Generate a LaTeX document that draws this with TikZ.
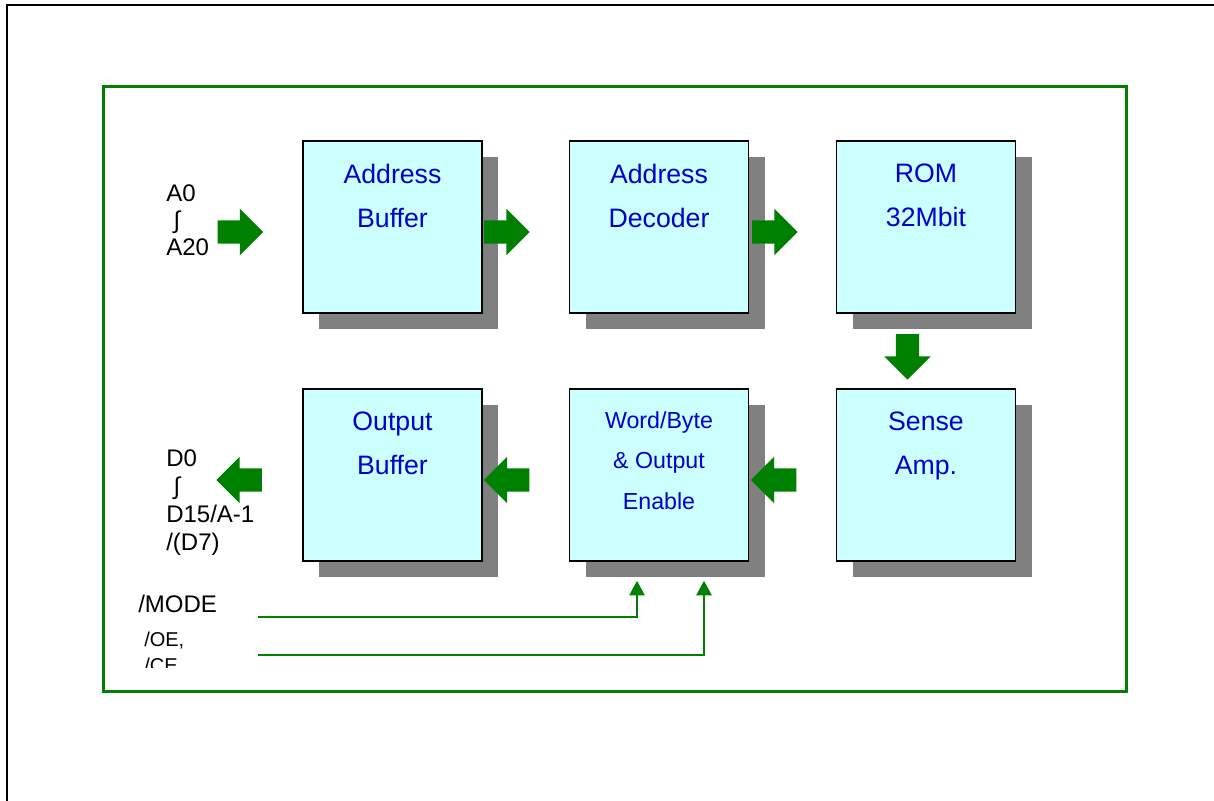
\documentclass[tikz,border=0pt]{standalone}
\usepackage{fontspec}
\setmainfont{Liberation Sans}
\usepackage{tikz}
\usetikzlibrary{arrows.meta, positioning, shapes.arrows, shadows, calc}

\definecolor{cellcyan}{HTML}{CCFFFF}
\definecolor{shadowgray}{HTML}{808080}
\definecolor{arrowgreen}{HTML}{008000}
\definecolor{textblue}{HTML}{0000CC}

\begin{document}
\begin{tikzpicture}[
  x=0.75pt, y=-0.75pt,
  blockbox/.style={draw=black, line width=1.2pt, fill=cellcyan, minimum width=134.25pt, minimum height=129pt,
    general shadow={fill=shadowgray, shadow xshift=12pt, shadow yshift=-12pt}},
  boxtext/.style={font=\fontsize{20}{33}\selectfont, text=textblue, align=center, inner sep=0pt},
  smalltext/.style={font=\fontsize{17.4}{30.4}\selectfont, text=textblue, align=center, inner sep=0pt},
  fatarrow/.style={single arrow, fill=arrowgreen, draw=none, inner sep=8.6pt,
    minimum width=34.5pt, minimum height=34pt, single arrow head extend=8.6pt, single arrow tip angle=90},
  pinlabel/.style={font=\fontsize{18}{20.2}\selectfont, align=left, inner sep=0pt, anchor=north west},
  signal/.style={draw=arrowgreen, line width=1.5pt, -{Triangle[length=11pt, width=11.5pt]}},
]
\useasboundingbox (0,0) rectangle (1214,800);

% frames
\draw[line width=1.5pt] (6.5,830) |- (1240,4.5);
\draw[draw=arrowgreen, line width=2.25pt] (103.5,86) rectangle (1126,691);

% upper row
\node[blockbox] (AB) at (392.5,227) {};
\node[blockbox] (AD) at (659,227) {};
\node[blockbox] (ROM) at (926,227) {};
\node[boxtext, below=17.8pt of AB.north] (ABt) {Address\\Buffer};
\node[boxtext, below=17.8pt of AD.north] (ADt) {Address\\Decoder};
\node[boxtext, below=17.8pt of ROM.north] (ROMt) {ROM\\32Mbit};

% lower row
\node[blockbox] (OB) at (392.5,475) {};
\node[blockbox] (WB) at (659,475) {};
\node[blockbox] (SA) at (926,475) {};
\node[boxtext, below=17.8pt of OB.north] (OBt) {Output\\Buffer};
\node[smalltext, below=17.2pt of WB.north] (WBt) {Word/Byte\\\&~Output\\Enable};
\node[boxtext, below=17.8pt of SA.north] (SAt) {Sense\\Amp.};

% data flow
\node[fatarrow] (ain) at (234.5,232) {};
\node[fatarrow] (ab2ad) at (501,232) {};
\node[fatarrow] (ad2rom) at (769,232) {};
\node[fatarrow, shape border rotate=270] (rom2sa) at (907.5,351) {};
\node[fatarrow, shape border rotate=180] (sa2wb) at (779.5,480) {};
\node[fatarrow, shape border rotate=180] (wb2ob) at (512.5,480) {};
\node[fatarrow, shape border rotate=180] (dout) at (245,480) {};

% pins
\node[pinlabel] (addr) at (166,184.7) {A0\\\hspace{5.5pt}∫\\A20};
\node[pinlabel, font=\fontsize{18}{21}\selectfont] (data) at (166,449.7) {D0\\\hspace{5.5pt}∫\\D15/A-1\\/(D7)};
\node[pinlabel, anchor=base west] (mode) at (138,612) {/MODE};
\begin{scope}
  \clip (130,620) rectangle (260,667);
  \node[pinlabel, font=\fontsize{15}{19.5}\selectfont] (oece) at (144,631.5) {/OE,\\/CE};
\end{scope}

% control inputs
\coordinate (modein) at (258,617);
\coordinate (oecein) at (258,655);
\draw[signal] (modein) -| ($(WB.south)+(-22,19)$);
\draw[signal] (oecein) -| ($(WB.south)+(45,19)$);

\end{tikzpicture}
\end{document}
